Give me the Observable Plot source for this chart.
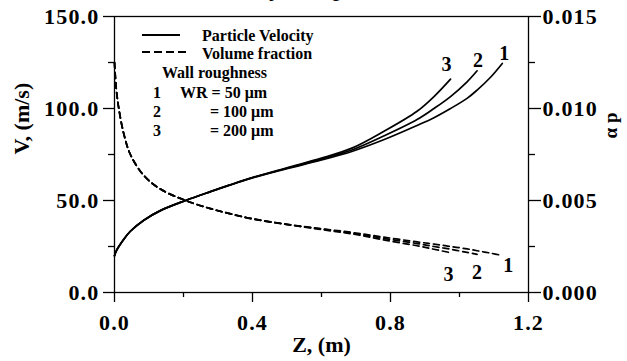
<!DOCTYPE html>
<html>
<head>
<meta charset="utf-8">
<script src="https://cdn.jsdelivr.net/npm/d3@7"></script>
<script src="https://cdn.jsdelivr.net/npm/@observablehq/plot@0.6"></script>
<style>
  html, body { margin: 0; padding: 0; background: #fff; }
  #wrap { position: relative; width: 627px; height: 361px; overflow: hidden; }
  #title { position: absolute; left: 110px; top: -27px; font: 26px "Liberation Serif", serif; white-space: nowrap; color: #000; }
  #chart svg g[aria-label$="tick label"] text { letter-spacing: 1.2px; }
</style>
</head>
<body>
<div id="wrap">
  <div id="title">Particle Velocity and particle volume fraction</div>
  <div id="chart"></div>
</div>
<script>
// ---- data ----
const seriesNames = ["1", "2", "3"];
const legendLabels = ["Particle Velocity", "Volume fraction"];
const roughnessLabels = ["WR = 50 \u03bcm", "= 100 \u03bcm", "= 200 \u03bcm"];

const zWR50  = [0, 0.005, 0.0125, 0.027, 0.046, 0.085, 0.133, 0.206, 0.278, 0.331, 0.4, 0.5, 0.6, 0.69, 0.78, 0.877, 0.926, 0.974, 1.022, 1.051, 1.09, 1.124];
const vWR50  = [20, 22.5, 25, 29, 33.3, 39.3, 44.5, 50, 54.8, 58.2, 62.3, 67.3, 72, 76.8, 83, 90.8, 95, 100, 105.5, 110, 117, 124.5];
const aWR50  = [0.0125, 0.0111, 0.0100, 0.00862, 0.0075, 0.00636, 0.00562, 0.0050, 0.00456, 0.0043, 0.00401, 0.00371, 0.00347, 0.00326, 0.00301, 0.00275, 0.00263, 0.0025, 0.00237, 0.00227, 0.00214, 0.00201];

const zWR100 = [0, 0.005, 0.0125, 0.027, 0.046, 0.085, 0.133, 0.206, 0.278, 0.331, 0.4, 0.5, 0.6, 0.69, 0.78, 0.877, 0.926, 0.974, 1.022, 1.051];
const vWR100 = [20, 22.5, 25, 29, 33.3, 39.3, 44.5, 50, 54.8, 58.2, 62.4, 67.5, 72.5, 77.6, 85, 94, 100, 106.5, 114.5, 120.5];
const aWR100 = [0.0125, 0.0111, 0.0100, 0.00862, 0.0075, 0.00636, 0.00562, 0.0050, 0.00456, 0.0043, 0.004, 0.0037, 0.00345, 0.00322, 0.00294, 0.00266, 0.0025, 0.00235, 0.00218, 0.00207];

const zWR200 = [0, 0.005, 0.0125, 0.027, 0.046, 0.085, 0.133, 0.206, 0.278, 0.331, 0.4, 0.5, 0.6, 0.69, 0.78, 0.877, 0.926, 0.974];
const vWR200 = [20, 22.5, 25, 29, 33.3, 39.3, 44.5, 50, 54.8, 58.2, 62.5, 67.8, 73, 78.6, 87.5, 98.5, 106.5, 116];
const aWR200 = [0.0125, 0.0111, 0.0100, 0.00862, 0.0075, 0.00636, 0.00562, 0.0050, 0.00456, 0.0043, 0.004, 0.00369, 0.00342, 0.00318, 0.00286, 0.00254, 0.00235, 0.00216];

const xTicks = [0, 0.4, 0.8, 1.2];
const xMinorTicks = [0.2, 0.6, 1.0];
const vTicks = [0, 50, 100, 150];
const vMinorTicks = [25, 75, 125];
const alphaTickLabels = ["0.000", "0.005", "0.010", "0.015"];
const ALPHA_TO_V = 10000; // right axis: 0.015 ↔ 150

// ---- build tables ----
const zs = [zWR50, zWR100, zWR200];
const vs = [vWR50, vWR100, vWR200];
const as = [aWR50, aWR100, aWR200];
const rows = seriesNames.flatMap((s, i) => zs[i].map((z, j) => ({s, z, v: vs[i][j], a: as[i][j]})));

const font = '"Liberation Serif", "Times New Roman", serif';

function legend(index, scales, values, dims) {
  const g = d3.create("svg:g")
    .attr("font-family", font).attr("font-weight", "bold").attr("font-size", 16)
    .attr("fill", "black").attr("text-anchor", "start");
  const x0 = 142, x1 = 180, tx = 202;
  g.append("line").attr("x1", x0).attr("x2", x1).attr("y1", 35).attr("y2", 35).attr("stroke", "black").attr("stroke-width", 1.8);
  g.append("line").attr("x1", x0).attr("x2", x1 + 6).attr("y1", 52).attr("y2", 52).attr("stroke", "black").attr("stroke-width", 1.8).attr("stroke-dasharray", "8,4");
  g.append("text").attr("x", tx).attr("y", 35).attr("dy", "0.35em").text(legendLabels[0]);
  g.append("text").attr("x", tx).attr("y", 53).attr("dy", "0.35em").text(legendLabels[1]);
  g.append("text").attr("x", 162).attr("y", 72).attr("dy", "0.35em").text("Wall roughness");
  const rowsY = [92, 111, 130];
  const labelX = [180, 210, 210];
  seriesNames.forEach((s, i) => {
    g.append("text").attr("x", 157).attr("y", rowsY[i]).attr("dy", "0.35em").attr("text-anchor", "middle").text(s);
    g.append("text").attr("x", labelX[i]).attr("y", rowsY[i]).attr("dy", "0.35em").text(roughnessLabels[i]);
  });
  return g.node();
}

const topOffsets = {"1": [2, -10], "2": [1, -10], "3": [-4, -14]};
const botOffsets = {"1": [6, 10], "2": [0, 18], "3": [-2, 22]};

const chart = Plot.plot({
  width: 627,
  height: 361,
  marginLeft: 114,
  marginRight: 99,
  marginTop: 16,
  marginBottom: 69,
  style: {fontFamily: font, fontWeight: "bold", fontSize: "22px", background: "white", color: "black"},
  x: {domain: [0, 1.2]},
  y: {domain: [0, 150]},
  marks: [
    Plot.frame({stroke: "black", strokeWidth: 1.3}),
    Plot.axisY({anchor: "left", ticks: vTicks, tickFormat: d => d.toFixed(1), tickSize: 11, tickPadding: 4, label: null, strokeWidth: 1.3}),
    Plot.axisY({anchor: "left", ticks: vMinorTicks, tickFormat: () => "", tickSize: 6, label: null, strokeWidth: 1.3}),
    Plot.axisY({anchor: "right", ticks: vTicks, tickFormat: d => alphaTickLabels[vTicks.indexOf(d)], tickSize: 12, tickPadding: 2, label: null, strokeWidth: 1.3}),
    Plot.axisY({anchor: "right", ticks: vMinorTicks, tickFormat: () => "", tickSize: 6, label: null, strokeWidth: 1.3}),
    Plot.axisX({anchor: "bottom", ticks: xTicks, tickFormat: d => d.toFixed(1), tickSize: 10, tickPadding: 12, label: null, strokeWidth: 1.3}),
    Plot.axisX({anchor: "bottom", ticks: xMinorTicks, tickFormat: () => "", tickSize: 5, label: null, strokeWidth: 1.3}),
    Plot.text(["Z, (m)"], {frameAnchor: "bottom", dy: 59, fontSize: 22}),
    Plot.text(["V, (m/s)"], {frameAnchor: "left", dx: -93, rotate: -90, fontSize: 22}),
    Plot.text(["\u03b1 p"], {frameAnchor: "right", dx: 82, dy: -42, rotate: -90, fontSize: 19}),
    Plot.line(rows, {x: "z", y: "v", z: "s", stroke: "black", strokeWidth: 1.7, curve: "catmull-rom"}),
    Plot.line(rows, {x: "z", y: d => d.a * ALPHA_TO_V, z: "s", stroke: "black", strokeWidth: 1.7, strokeDasharray: "6,4", curve: "catmull-rom"}),
    ...seriesNames.map(s => Plot.text(rows.filter(r => r.s === s), Plot.selectLast({x: "z", y: "v", text: "s", fontSize: 20, dx: topOffsets[s][0], dy: topOffsets[s][1]}))),
    ...seriesNames.map(s => Plot.text(rows.filter(r => r.s === s), Plot.selectLast({x: "z", y: d => d.a * ALPHA_TO_V, text: "s", fontSize: 20, dx: botOffsets[s][0], dy: botOffsets[s][1]}))),
    legend
  ]
});
document.getElementById("chart").appendChild(chart);
</script>
</body>
</html>
